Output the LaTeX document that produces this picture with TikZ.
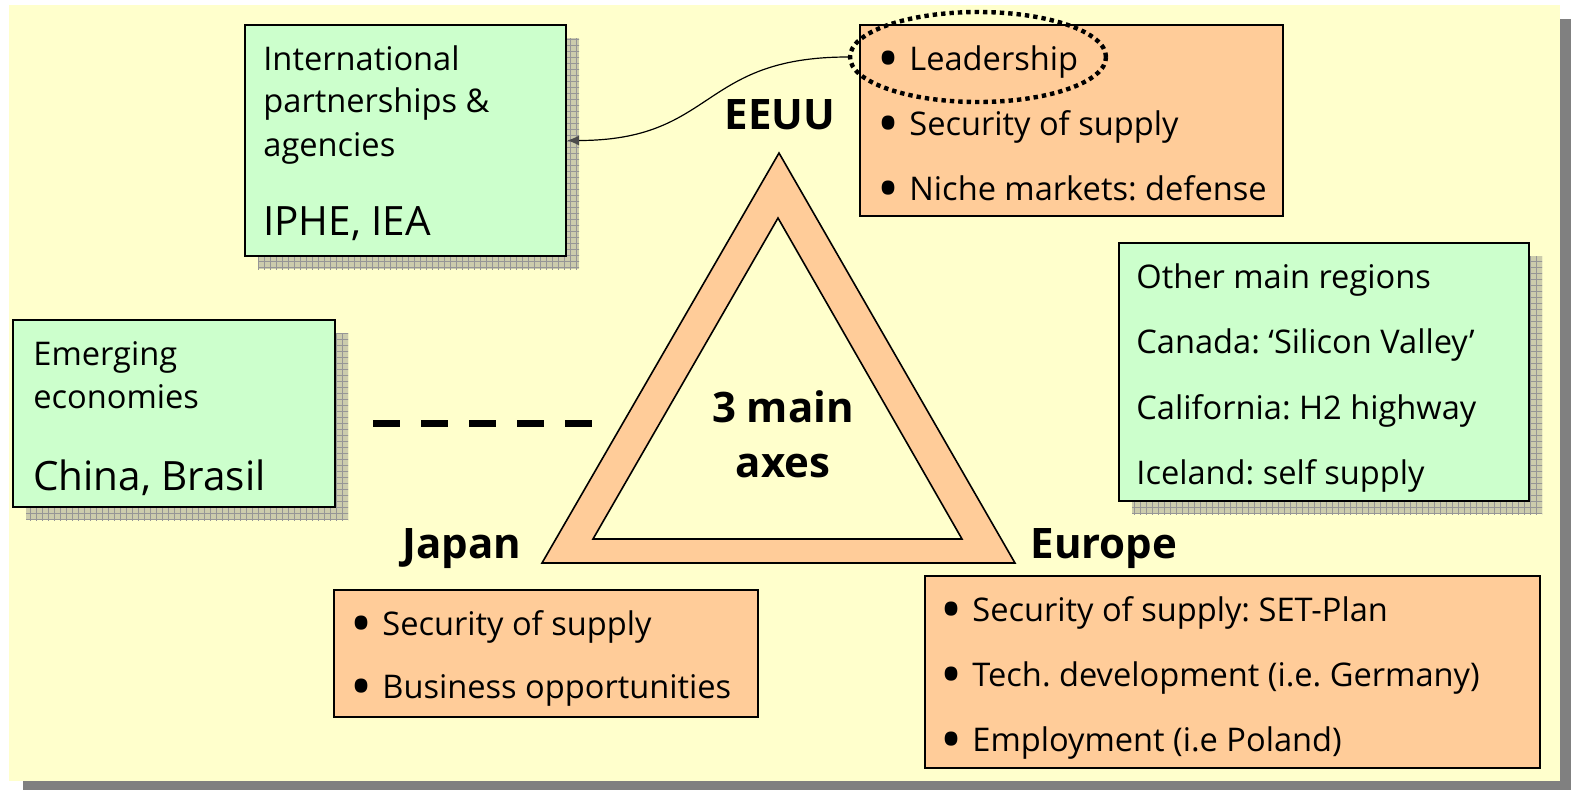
\documentclass[tikz,border=0pt]{standalone}
\usepackage{graphicx}
\usepackage{fontspec}
\setmainfont{Open Sans}
\usetikzlibrary{shapes.geometric,shadows,patterns,arrows.meta}

\definecolor{panelyellow}{HTML}{FFFFCC}
\definecolor{boxgreen}{HTML}{CCFFCC}
\definecolor{boxorange}{HTML}{FFCC99}
\definecolor{shadowbeige}{RGB}{204,204,172}
\definecolor{gridgray}{RGB}{150,150,150}
\definecolor{panelshadow}{RGB}{128,128,128}

\newcommand{\itm}{\makebox[16pt][l]{\raisebox{-4.6pt}{\scalebox{1.8}{\textbullet}}}}

\begin{document}
\frenchspacing
\begin{tikzpicture}[x=0.5pt,y=-0.5pt,
    body/.style={anchor=base west,inner sep=0pt,font=\fontsize{16.3}{20}\selectfont},
    big/.style={anchor=base west,inner sep=0pt,font=\fontsize{20.2}{24}\selectfont},
    region/.style={anchor=base,inner sep=0pt,font=\fontsize{21}{25}\selectfont\bfseries},
    greenbox/.style={draw,line width=1pt,fill=boxgreen,
      drop shadow={shadow xshift=6.5pt,shadow yshift=-6.5pt,opacity=1,fill=shadowbeige},
      drop shadow={shadow xshift=6.5pt,shadow yshift=-6.5pt,opacity=1,pattern=grid,pattern color=gridgray}},
    orangebox/.style={draw,line width=1pt,fill=boxorange},
    dotring/.style={ellipse,draw,line width=2.2pt,dash pattern=on 2.2pt off 2pt,
      minimum width=128pt,minimum height=45pt}]
  \useasboundingbox (0,0) rectangle (1571,789);

  % panel
  \fill[panelshadow] (23,19) rectangle (1571,795);
  \fill[panelyellow] (9,5) rectangle (1560,781);

  % boxes
  \node[greenbox,minimum width=160.5pt,minimum height=115.5pt] (iphe) at (405.5,140.5) {};
  \node[greenbox,minimum width=161pt,minimum height=93.5pt] (emerging) at (174,413.5) {};
  \node[greenbox,minimum width=205pt,minimum height=129pt] (others) at (1324,372) {};
  \node[orangebox,minimum width=211.5pt,minimum height=95.5pt] (eeuulist) at (1071.5,120.5) {};
  \node[orangebox,minimum width=212pt,minimum height=63.5pt] (japanlist) at (546,653.5) {};
  \node[orangebox,minimum width=307.5pt,minimum height=96pt] (europelist) at (1232.5,672) {};

  % triangle
  \filldraw[fill=boxorange,line width=0.8pt] (779,153) -- (1015,563) -- (542,563) -- cycle;
  \filldraw[fill=panelyellow,line width=0.8pt] (778,218) -- (962,539) -- (593,539) -- cycle;

  % texts
  \node[body] (ipheA) at (263,70) {International};
  \node[body] (ipheB) at (263,112) {partnerships \&};
  \node[body] (ipheC) at (263,156) {agencies};
  \node[big] (ipheD) at (263,235) {IPHE, IEA};

  \node[body] (emergingA) at (33,365) {Emerging};
  \node[body] (emergingB) at (33,408) {economies};
  \node[big] (emergingC) at (33,490) {China, Brasil};

  \node[body] (othersA) at (1136,288) {Other main regions};
  \node[body] (othersB) at (1136,353) {Canada: ‘Silicon Valley’};
  \node[body] (othersC) at (1136,419) {California: H2 highway};
  \node[body] (othersD) at (1136,484) {Iceland: self supply};

  \node[body] (eeuuA) at (877,70) {\itm Leadership};
  \node[body] (eeuuB) at (877,135) {\itm Security of supply};
  \node[body] (eeuuC) at (877,200) {\itm Niche markets: defense};

  \node[body] (japanA) at (350,635) {\itm Security of supply};
  \node[body] (japanB) at (350,698) {\itm Business opportunities};

  \node[body] (europeA) at (940,621) {\itm Security of supply: SET-Plan};
  \node[body] (europeB) at (940,686) {\itm Tech. development (i.e. Germany)};
  \node[body] (europeC) at (940,751) {\itm Employment (i.e Poland)};

  \node[region] (eeuu) at (780,129) {EEUU};
  \node[region] (japan) at (462,558) {Japan};
  \node[region] (europe) at (1104,558) {Europe};
  \node[region] (axesA) at (783,422) {3 main};
  \node[region] (axesB) at (783,477) {axes};

  % leadership mark and link
  \node[dotring] (lead) at (978,57) {};
  \draw[line width=0.6pt,-{Latex[length=6pt,width=5pt,color=black!70]}]
    (lead.west) .. controls +(-149,0) and +(149,0) .. (iphe.east);

  % dashed link to emerging economies
  \coordinate (dashL) at (373,423);
  \coordinate (dashR) at (592,423);
  \draw[line width=3.5pt,dash pattern=on 13.5pt off 10.5pt] (dashL) -- (dashR);
\end{tikzpicture}
\end{document}
